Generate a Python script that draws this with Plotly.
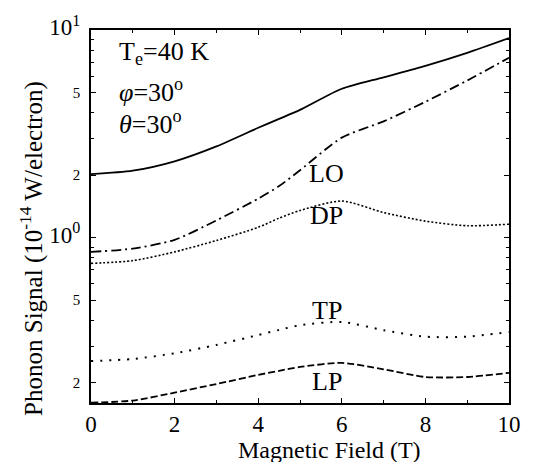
import plotly.graph_objects as go

field = [0, 1, 2, 3, 4, 4.5, 5, 6, 7, 8, 9, 10]
total = [2.02, 2.10, 2.33, 2.75, 3.38, 3.73, 4.12, 5.21, 5.92, 6.72, 7.76, 9.14]
lo = [0.853, 0.885, 0.975, 1.21, 1.54, 1.77, 2.11, 3.03, 3.63, 4.51, 5.71, 7.35]
dp = [0.751, 0.774, 0.853, 0.968, 1.12, 1.24, 1.35, 1.50, 1.32, 1.20, 1.14, 1.16]
tp = [0.254, 0.260, 0.277, 0.304, 0.339, 0.359, 0.378, 0.392, 0.358, 0.333, 0.333, 0.351]
lp = [0.160, 0.164, 0.179, 0.197, 0.218, 0.228, 0.238, 0.249, 0.232, 0.213, 0.213, 0.223]

x_ticks = [0, 2, 4, 6, 8, 10]
x_minor = [1, 3, 5, 7, 9]
y_major = [0.2, 0.5, 1, 2, 5, 10]
y_major_text = ["2", "5", "10<sup>0</sup>", "2", "5", "10<sup>1</sup>"]
y_minor = [0.3, 0.4, 0.6, 0.7, 0.8, 0.9, 3, 4, 6, 7, 8, 9]

FONT = "Liberation Serif, Times New Roman, DejaVu Serif, serif"

fig = go.Figure()
series = [
    (total, "solid", 1.8),
    (lo, "10px,4px,2px,4px", 1.8),
    (dp, "2px,2px", 1.6),
    (tp, "2px,7px", 2.0),
    (lp, "7px,3px", 1.8),
]
for ys, dash, w in series:
    fig.add_trace(go.Scatter(x=field, y=ys, mode="lines",
                             line=dict(color="black", width=w, dash=dash, shape="spline", smoothing=0.7),
                             showlegend=False))

ytext = []
for t in y_major_text:
    size = 23 if "sup" in t else 15
    ytext.append('<span style="font-size:%dpx">%s</span>' % (size, t))

fig.update_layout(
    width=533, height=462,
    margin=dict(l=91, r=13, t=22, b=59),
    paper_bgcolor="white", plot_bgcolor="white",
    font=dict(family=FONT, color="black"),
    xaxis=dict(range=[0, 10], tickvals=x_ticks, ticktext=[str(v) for v in x_ticks],
               ticks="inside", ticklen=5, tickcolor="black",
               minor=dict(tickvals=x_minor, ticks="inside", ticklen=3, tickcolor="black"),
               showline=True, linecolor="black", linewidth=1.5, mirror="ticks",
               showgrid=False, zeroline=False,
               tickfont=dict(size=23, family=FONT)),
    yaxis=dict(type="log", range=[-0.797, 1], tickvals=y_major, ticktext=ytext,
               ticks="inside", ticklen=5, tickcolor="black",
               minor=dict(tickvals=y_minor, ticks="inside", ticklen=3, tickcolor="black"),
               showline=True, linecolor="black", linewidth=1.5, mirror="ticks",
               showgrid=False, zeroline=False, ticklabelstandoff=6,
               tickfont=dict(size=15, family=FONT)),
)

anns = [
    dict(x=0.62, y=45, text="T<sub>e</sub>=40 K"),
    dict(x=0.62, y=84, text="<i>φ</i>=30<sup>o</sup>"),
    dict(x=0.62, y=116, text="<i>θ</i>=30<sup>o</sup>"),
]
for a in anns:
    fig.add_annotation(x=a["x"], xref="x", y=(403 - a["y"]) / 381, yref="paper",
                       text=a["text"], showarrow=False, xanchor="left", yanchor="middle",
                       font=dict(size=26, family=FONT))

labels = [("LO", 169), ("DP", 211), ("TP", 309), ("LP", 381)]
for t, py in labels:
    fig.add_annotation(x=5.64, xref="x", y=(403 - py) / 381, yref="paper",
                       text=t, showarrow=False, xanchor="center", yanchor="middle",
                       font=dict(size=26, family=FONT))

fig.add_annotation(x=304 / 533, xref="paper", y=(403 - 451) / 381, yref="paper",
                   text="Magnetic Field (T)", showarrow=False, xanchor="center", yanchor="middle",
                   font=dict(size=24, family=FONT))
fig.add_annotation(x=(30 - 91) / 429, xref="paper", y=(403 - 245) / 381, yref="paper",
                   text="Phonon Signal (10<sup>-14</sup> W/electron)", textangle=-90,
                   showarrow=False, xanchor="center", yanchor="middle",
                   font=dict(size=25, family=FONT))

fig.write_html("out.html")
